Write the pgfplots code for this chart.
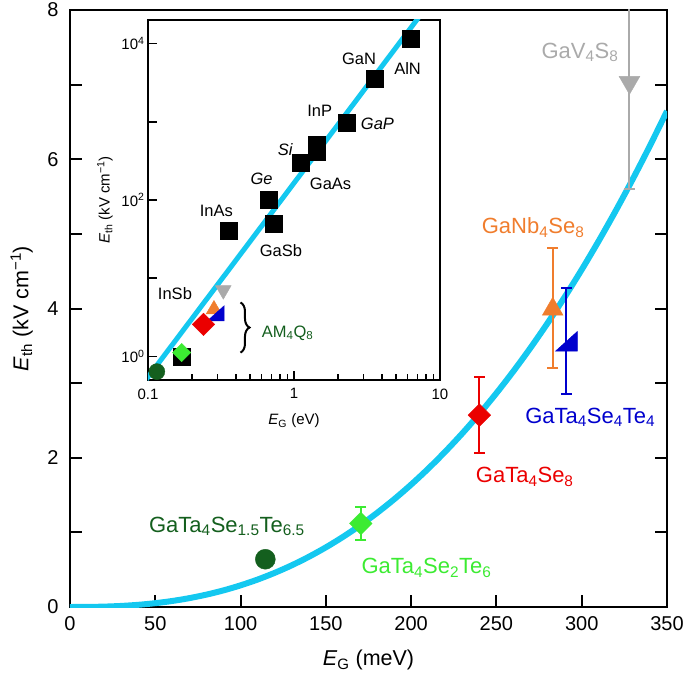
\documentclass[border=0pt]{standalone}
\usepackage{pgfplots}
\pgfplotsset{compat=1.18}
\usepackage{fontspec}
\setmainfont{Liberation Sans}
\usetikzlibrary{decorations.pathreplacing}
\definecolor{fitcyan}{RGB}{20,200,240}
\definecolor{cgray}{RGB}{170,170,170}
\definecolor{corange}{RGB}{240,125,45}
\definecolor{cblue}{RGB}{0,0,205}
\definecolor{cred}{RGB}{235,0,0}
\definecolor{clgreen}{RGB}{60,235,50}
\definecolor{cdgreen}{RGB}{20,95,30}
\pgfdeclareplotmark{halftri}{%
  \pgfpathmoveto{\pgfqpoint{-\pgfplotmarksize}{-0.9\pgfplotmarksize}}%
  \pgfpathlineto{\pgfqpoint{\pgfplotmarksize}{-0.9\pgfplotmarksize}}%
  \pgfpathlineto{\pgfqpoint{\pgfplotmarksize}{0.9\pgfplotmarksize}}%
  \pgfpathclose\pgfusepathqfillstroke}
\newcommand{\bigf}{\fontsize{20}{24}\selectfont}
\newcommand{\axlf}{\fontsize{21.5}{25}\selectfont}
\newcommand{\labf}{\fontsize{22}{26}\selectfont}
\newcommand{\smf}{\fontsize{15}{18}\selectfont}
\newcommand{\inlf}{\fontsize{16.5}{19}\selectfont}
\newcommand{\inaxf}{\fontsize{15}{18}\selectfont}
\pgfplotsset{ebar/.style={error bars/.cd, y dir=both, y explicit,
  error bar style={line width=2pt}, error mark=none},
  caps/.style={only marks, mark=-, mark size=5.5pt, mark options={line width=2pt}}}
\begin{document}
\begin{tikzpicture}
\path[use as bounding box] (-70pt,-68pt) rectangle (615pt,607pt);
\begin{axis}[name=main, at={(0pt,0pt)}, anchor=south west,
  scale only axis, width=597pt, height=597pt,
  xmin=0, xmax=350, ymin=0, ymax=8,
  xtick={0,50,...,350}, ytick={0,1,...,8},
  yticklabels={0,,2,,4,,6,,8},
  tick align=inside, xtick pos=bottom, ytick pos=both,
  major tick length=12pt,
  axis line style={line width=2.5pt},
  every tick/.style={line width=2pt, black},
  ticklabel style={font=\bigf},
  xticklabel style={yshift=-6pt},
  yticklabel style={xshift=-8pt},
  /pgf/number format/assume math mode=true,
  xlabel={\textit{E}\textsubscript{G} (meV)},
  ylabel={\textit{E}\textsubscript{th} (kV cm\textsuperscript{−1})},
  xlabel style={font=\axlf, at={(axis description cs:0.5,-0.072)}, anchor=north, inner sep=0pt},
  ylabel style={font=\axlf, at={(axis description cs:-0.062,0.5)}, anchor=south, rotate=0, inner sep=0pt},
  clip=true]
\addplot[fitcyan, line width=6pt, smooth] coordinates {
(0,0) (10,0.0009) (20,0.0052) (30,0.0143) (40,0.0293) (50,0.0513) (60,0.0809)
(70,0.1189) (80,0.166) (90,0.2228) (100,0.29) (110,0.368) (120,0.4575)
(130,0.5588) (140,0.6726) (150,0.7991) (160,0.939) (170,1.0927) (180,1.2606)
(190,1.443) (200,1.6405) (210,1.8533) (220,2.082) (230,2.3267) (240,2.5879)
(250,2.8658) (260,3.161) (270,3.4739) (280,3.8044) (290,4.1533) (300,4.5207)
(310,4.9069) (320,5.3123) (330,5.7371) (340,6.1815) (350,6.646)};
% GaV4S8
\addplot[cgray, only marks, mark=triangle*, mark size=12pt, mark options={rotate=180}, ebar]
  coordinates {(328,7.03) +- (0,1.43)};
\addplot[cgray, caps] coordinates {(328,5.6)};
% GaNb4Se8
\addplot[corange, only marks, mark=triangle*, mark size=12pt, ebar]
  coordinates {(283,3.99) += (0,0.82) -= (0,0.79)};
\addplot[corange, caps] coordinates {(283,4.81) (283,3.20)};
% GaTa4Se4Te4
\addplot[cblue, only marks, mark=halftri, mark size=11pt, ebar]
  coordinates {(291,3.56) +- (0,0.71)};
\addplot[cblue, caps] coordinates {(291,4.27) (291,2.85)};
% GaTa4Se8
\addplot[cred, only marks, mark=square*, mark size=8pt, mark options={rotate=45}, ebar]
  coordinates {(240,2.57) +- (0,0.51)};
\addplot[cred, caps] coordinates {(240,3.08) (240,2.06)};
% GaTa4Se2Te6
\addplot[clgreen, only marks, mark=square*, mark size=8pt, mark options={rotate=45}, ebar]
  coordinates {(170.5,1.12) +- (0,0.22)};
\addplot[clgreen, caps] coordinates {(170.5,1.34) (170.5,0.90)};
% GaTa4Se1.5Te6.5
\addplot[cdgreen, only marks, mark=*, mark size=10pt] coordinates {(114.5,0.64)};
\node[cgray, font=\labf] at (axis cs:299,7.43) {GaV\textsubscript{4}S\textsubscript{8}};
\node[corange, font=\labf] at (axis cs:271.5,5.08) {GaNb\textsubscript{4}Se\textsubscript{8}};
\node[cblue, font=\labf] at (axis cs:305,2.54) {GaTa\textsubscript{4}Se\textsubscript{4}Te\textsubscript{4}};
\node[cred, font=\labf] at (axis cs:266.6,1.74) {GaTa\textsubscript{4}Se\textsubscript{8}};
\node[clgreen, font=\labf] at (axis cs:209,0.52) {GaTa\textsubscript{4}Se\textsubscript{2}Te\textsubscript{6}};
\node[cdgreen, font=\labf] at (axis cs:92,1.08) {GaTa\textsubscript{4}Se\textsubscript{1.5}Te\textsubscript{6.5}};
\end{axis}
\begin{axis}[at={(78pt,227pt)}, anchor=south west,
  scale only axis, width=292pt, height=360pt,
  xmode=log, ymode=log,
  xmin=0.1, xmax=10, ymin=0.5, ymax=2e4,
  axis background/.style={fill=white},
  xtick={0.1,1,10}, xticklabels={0.1,1,10},
  ytick={1,10,100,1000,10000},
  yticklabels={10\textsuperscript{0},,10\textsuperscript{2},,10\textsuperscript{4}},
  yminorticks=false,
  tick align=inside, xtick pos=bottom, ytick pos=left,
  major tick length=9pt, minor tick length=6pt,
  axis line style={line width=2pt},
  every tick/.style={line width=1.6pt, black},
  ticklabel style={font=\smf},
  xticklabel style={yshift=-5pt},
  xlabel={\textit{E}\textsubscript{G} (eV)},
  ylabel={\textit{E}\textsubscript{th} (kV cm\textsuperscript{−1})},
  xlabel style={font=\inaxf, at={(axis description cs:0.5,-0.094)}, anchor=north, inner sep=0pt},
  ylabel style={font=\inaxf, at={(axis description cs:-0.12,0.5)}, anchor=south, rotate=0, inner sep=0pt},
  clip=true]
\addplot[fitcyan, line width=5pt] coordinates {(0.095,0.48) (7.2,2.2e4)};
\addplot[black, only marks, mark=square*, mark size=8.5pt] coordinates {
(0.17,1.0) (0.355,40) (0.67,101) (0.73,50) (1.12,297) (1.43,510) (1.43,420)
(2.3,985) (3.55,3520) (6.3,11700)};
\addplot[cgray, only marks, mark=triangle*, mark size=9pt, mark options={rotate=180}] coordinates {(0.328,7.03)};
\addplot[corange, only marks, mark=triangle*, mark size=9pt] coordinates {(0.283,3.99)};
\addplot[cblue, only marks, mark=halftri, mark size=8.5pt] coordinates {(0.291,3.56)};
\addplot[cred, only marks, mark=square*, mark size=8pt, mark options={rotate=45}] coordinates {(0.24,2.57)};
\addplot[clgreen, only marks, mark=square*, mark size=6.5pt, mark options={rotate=45}] coordinates {(0.17,1.12)};
\addplot[cdgreen, only marks, mark=*, mark size=8pt] coordinates {(0.115,0.64)};
\node[font=\inlf] at (axis cs:0.153,6.4) {InSb};
\node[font=\inlf] at (axis cs:0.294,72) {InAs};
\node[font=\inlf\itshape] at (axis cs:0.60,186) {Ge};
\node[font=\inlf] at (axis cs:0.813,22.8) {GaSb};
\node[font=\inlf\itshape] at (axis cs:0.871,440) {Si};
\node[font=\inlf] at (axis cs:1.78,162) {GaAs};
\node[font=\inlf] at (axis cs:1.50,1360) {InP};
\node[font=\inlf\itshape] at (axis cs:3.73,935) {GaP};
\node[font=\inlf] at (axis cs:2.79,6340) {GaN};
\node[font=\inlf] at (axis cs:6.0,4860) {AlN};
\draw[line width=2pt, decorate, decoration={brace, amplitude=9pt}] (axis cs:0.43,4.9) -- (axis cs:0.43,1.12);
\node[cdgreen, font=\inlf] at (axis cs:0.905,2.0) {AM\textsubscript{4}Q\textsubscript{8}};
\end{axis}
\end{tikzpicture}
\end{document}
